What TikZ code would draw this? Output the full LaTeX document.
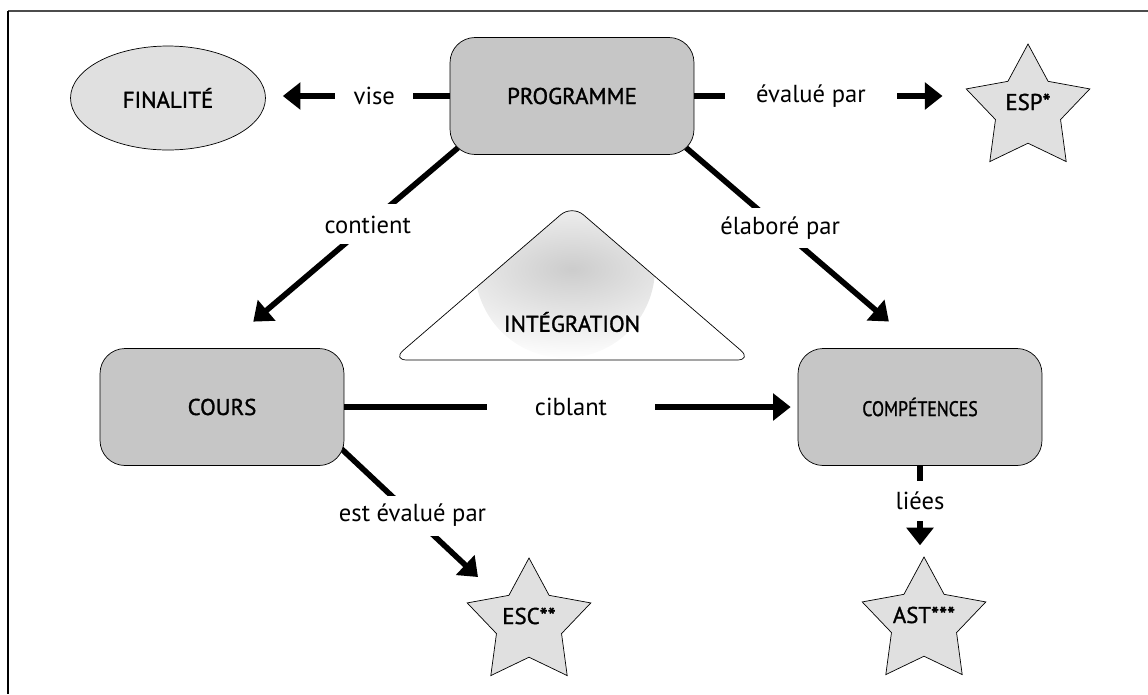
\documentclass[tikz,border=0pt]{standalone}
\usepackage{fontspec}
\setmainfont{PT Sans}
\newfontfamily\nodefont[FakeBold=1.3]{PT Sans}
\usetikzlibrary{shapes.geometric,arrows.meta,calc,backgrounds}
\definecolor{boxgray}{HTML}{C6C6C6}
\definecolor{softgray}{HTML}{E0E0E0}
\begin{document}
\begin{tikzpicture}[
  x=0.02cm, y=-0.02cm,
  block/.style={rectangle, rounded corners=0.5cm, draw, fill=boxgray, minimum width=4.88cm, minimum height=2.34cm, font=\nodefont\fontsize{13}{15}\selectfont},
  starbox/.style={star, star points=5, star point ratio=1.9, draw, fill=softgray, minimum size=2.6cm, inner sep=0pt},
  startext/.style={font=\nodefont\fontsize{13}{15}\selectfont, yshift=4pt},
  link/.style={line width=3.2pt, -{Triangle[length=10pt,width=15pt]}},
  tag/.style={fill=white, inner xsep=4pt, inner ysep=0pt, minimum height=0.8cm, font=\fontsize{14}{16}\selectfont}
]
\useasboundingbox (0,0) rectangle (1148,694);
\draw[line width=1.2pt, black!70] (8,11) -- (1148,11);
\draw[line width=1.2pt] (8,11) -- (8,694);

\node[ellipse, draw, fill=softgray, minimum width=3.9cm, minimum height=2.08cm, font=\nodefont\fontsize{13}{15}\selectfont] (fin) at (168,98) {FINALITÉ};
\node[block] (prog) at (572,96) {PROGRAMME};
\node[block] (cours) at (222,407) {COURS};
\node[block] (comp) at (920,407) {\fontsize{12}{14}\selectfont\scalebox{0.84}[1]{COMPÉTENCES}};
\node[starbox, label={[startext]center:ESP*}] (esp) at (1028,109) {};
\node[starbox, label={[startext]center:ESC**}] (esc) at (529,623) {};
\node[starbox, label={[startext]center:AST***}] (ast) at (924,622) {};

\draw[rounded corners=0.3cm, path picture={\shade[inner color=black!20, outer color=white] (565,268) circle (1.8cm);}] (392,360) -- (572,205) -- (752,360) -- cycle;
\node[font=\nodefont\fontsize{13}{15}\selectfont] (integ) at (572,322) {INTÉGRATION};

\coordinate (escin) at ($(esc.center)+(-51,-46)$);

\begin{scope}[on background layer]
\draw[link, shorten >=0.34cm] (prog.west) -- node[tag, pos=0.41, minimum width=1.56cm] {vise} (prog.west -| fin.east);
\draw[link, shorten >=0.46cm] (prog.east) -- node[tag, pos=0.43, minimum width=3.44cm] {évalué par} (prog.east -| esp.outer point 2);
\draw[link, shorten <=-0.22cm, shorten >=0.82cm] (prog.south west) -- node[tag, pos=0.36] {contient} (cours.north);
\draw[link, shorten <=-0.22cm, shorten >=0.82cm] (prog.south east) -- node[tag, pos=0.38] {élaboré par} (comp.north);
\draw[link, shorten >=0.14cm] (cours.east) -- node[tag, minimum width=3.36cm] {ciblant} (comp.west);
\draw[link, shorten >=0.22cm] (comp.south) -- node[tag, pos=0.39] {liées} (comp.south |- ast.outer point 1);
\draw[link, shorten <=-0.1cm] (cours.-20) -- node[tag, pos=0.51] {est évalué par} (escin);
\end{scope}
\end{tikzpicture}
\end{document}
